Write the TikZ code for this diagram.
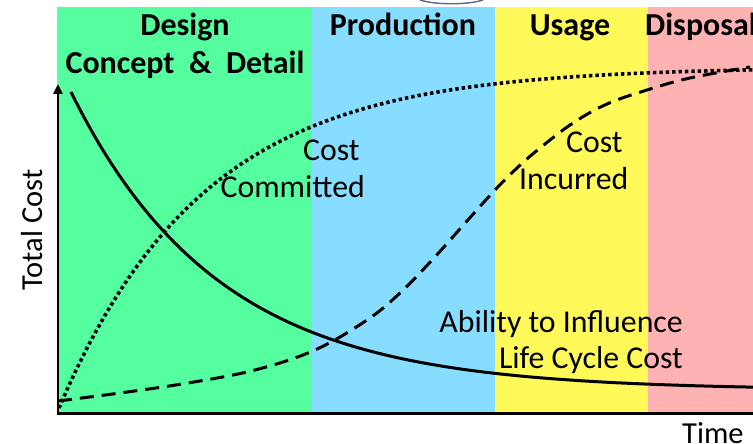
\documentclass[tikz,border=0pt]{standalone}
\usepackage{fontspec}
\setmainfont{Carlito}
\usetikzlibrary{arrows.meta}
\definecolor{bandgreen}{RGB}{85,255,160}
\definecolor{bandblue}{RGB}{135,221,255}
\definecolor{bandyellow}{RGB}{255,250,90}
\definecolor{bandpink}{RGB}{255,178,178}
\definecolor{arcgrey}{RGB}{90,105,130}
\begin{document}
\begin{tikzpicture}[x=1pt,y=-1pt,
  lbl/.style={font=\fontsize{31.8}{36}\selectfont, inner sep=0pt},
  hdr/.style={font=\fontsize{32}{36}\selectfont\bfseries, inner sep=0pt},
  axlbl/.style={font=\fontsize{30.5}{34}\selectfont, inner sep=0pt},
  curve/.style={line width=3pt, black},
  axis/.style={line width=2.6pt, black}]
\useasboundingbox (0,0) rectangle (753,444);
% bands
\fill[bandgreen]  (57,7) rectangle (312,413);
\fill[bandblue]   (312,7) rectangle (495,413);
\fill[bandyellow] (495,7) rectangle (648,413);
\fill[bandpink]   (648,7) rectangle (753,413);
% top arc
\draw[arcgrey, line width=1.4pt] (420,0) .. controls (435,5) and (468,5) .. (483,0);
% headers
\node[hdr, anchor=base] (design) at (185,36) {Design};
\node[hdr, anchor=base] (concept) at (185,74) {Concept\ \ \&\ \ Detail};
\node[hdr, anchor=base] (prod) at (403,36) {Production};
\node[hdr, anchor=base] (usage) at (570,36) {Usage};
\node[hdr, anchor=base west] (disp) at (645,36) {Disposal};
% curves
\draw[curve] plot[domain=71:753, samples=120] (\x, {390-298*exp(-0.0068*(\x-71))});
\draw[curve, line width=3.6pt, line cap=butt, dash pattern=on 3.4pt off 3pt] plot[domain=59:753, samples=150] (\x, {67+341*exp(-0.0069*(\x-59))});
\draw[curve, dash pattern=on 14pt off 8pt] plot[smooth, tension=0.6] coordinates {(58,401) (120,393) (188,383) (255,370) (315,350) (367,320) (400,293) (433,259) (467,221) (495,190) (517,168) (540,148) (573,123) (607,104) (647,90) (690,78) (750,67)};
% axes
\coordinate (origin) at (58,413);
\coordinate (ytop) at (58,84);
\coordinate (xend) at (753,413);
\draw[axis, -{Triangle[length=10pt,width=9pt]}] (origin) -- (ytop);
\draw[axis, line width=3pt] (56.7,413) -- (xend);
% labels
\node[lbl, anchor=base west] (cost1) at (303,160) {Cost};
\node[lbl, anchor=base east] (committed) at (365,197) {Committed};
\node[lbl, anchor=base west] (cost2) at (566,152) {Cost};
\node[lbl, anchor=base west] (incurred) at (519,189) {Incurred};
\node[lbl, anchor=base east] (ability) at (683,332) {Ability to Influence};
\node[lbl, anchor=base east] (lcc) at (683,368) {Life Cycle Cost};
\node[axlbl, anchor=base west] (time) at (682,443) {Time};
\node[axlbl, anchor=base, rotate=90] (total) at (42,230) {Total Cost};
\end{tikzpicture}
\end{document}
